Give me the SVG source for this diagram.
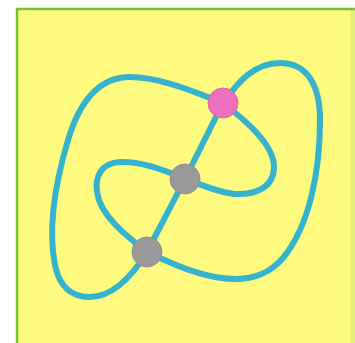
<svg xmlns="http://www.w3.org/2000/svg" width="355" height="343" viewBox="0 0 355 343">
<style>
.k{fill:none;stroke:#35b3cd;stroke-width:6;stroke-linecap:round}
.dot{stroke-width:1}
</style>
<rect x="0" y="0" width="355" height="343" fill="#ffffff"/>
<g id="frame">
<rect x="17" y="9" width="338" height="334" fill="#fffb80"/>
<rect x="350.5" y="10" width="4.5" height="333" fill="#e6ee78"/>
<line x1="16" y1="9" x2="355" y2="9" stroke="#7cc22e" stroke-width="2.5"/>
<line x1="17" y1="8" x2="17" y2="343" stroke="#7cc22e" stroke-width="2.5"/>
</g>
<g id="connectors">
<path class="k" d="M223,103 C238,82 254,63 280,63 C307,63 320,85 320,120 C320,170 310,225 283,258 C270,273 255,279 235,279 C205,279 175,265 147,252"/>
<path class="k" d="M223,103 C195,92 160,77 130,77 C100,77 80,100 68,140 C55,184 48,230 55,265 C60,290 75,297 90,297 C110,297 130,280 147,252"/>
<path class="k" d="M223,103 C245,120 275,145 274,168 C273,188 255,195 235,194 C220,193 205,186 185,179"/>
<path class="k" d="M185,179 C165,170 140,161 120,162 C100,163 95,178 97,192 C100,215 125,235 147,252"/>
<path class="k" d="M223,103 L185,179 L147,252"/>
</g>
<g id="node-pink"><circle class="dot" cx="223" cy="103" r="15" fill="#ec6fbd" stroke="#d565a8"/></g>
<g id="node-gray1"><circle class="dot" cx="185" cy="179" r="15" fill="#999999" stroke="#8e8e8e"/></g>
<g id="node-gray2"><circle class="dot" cx="147" cy="252" r="15" fill="#999999" stroke="#8e8e8e"/></g>
</svg>
